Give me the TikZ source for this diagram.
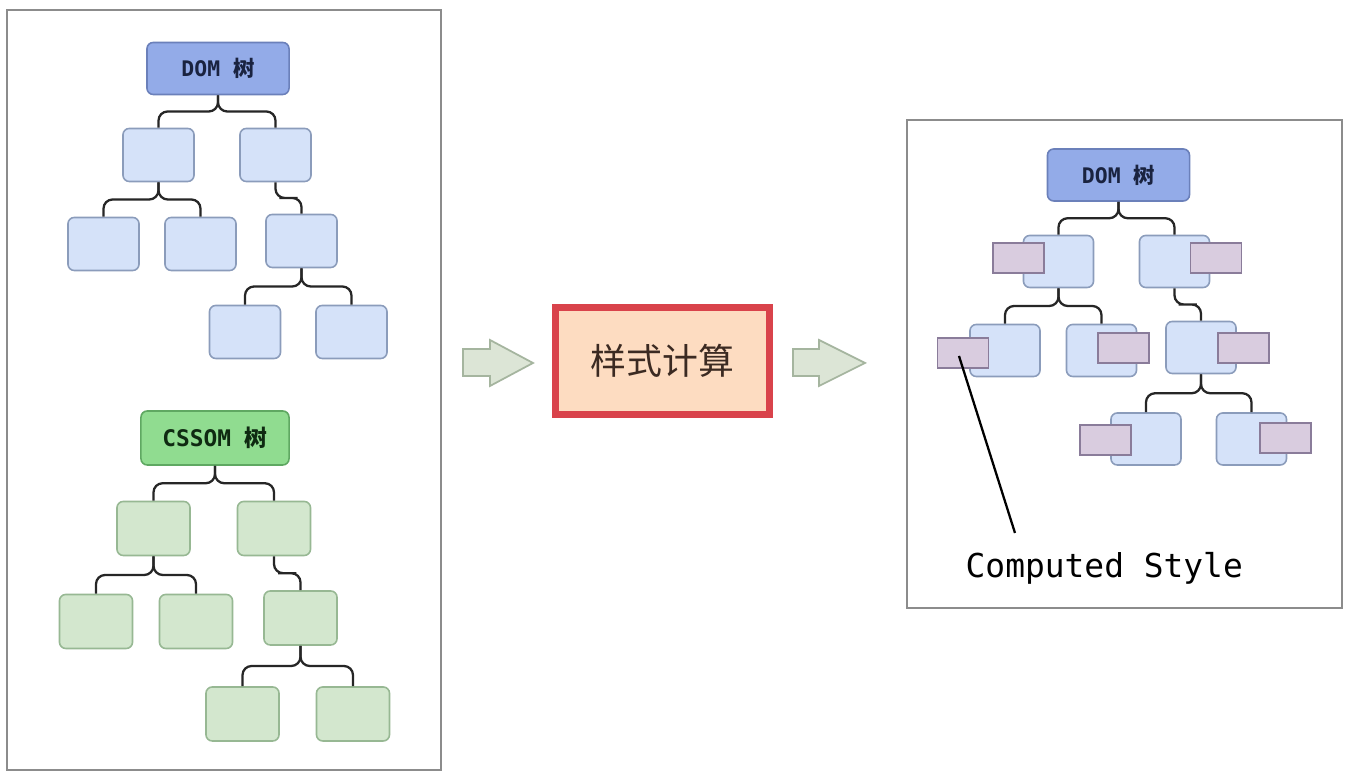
\documentclass[tikz,border=0pt]{standalone}
\usepackage{fontspec}
\setmonofont{DejaVu Sans Mono}
\newfontfamily\cjk{Noto Sans CJK SC}
\usetikzlibrary{calc}
\definecolor{panelc}{HTML}{8C8C8C}
\definecolor{rootb}{HTML}{93ABE8}
\definecolor{rootbd}{HTML}{6B80BA}
\definecolor{nodeb}{HTML}{D5E2F9}
\definecolor{nodebd}{HTML}{8B9CBB}
\definecolor{rootg}{HTML}{90DC90}
\definecolor{rootgd}{HTML}{5FA862}
\definecolor{nodeg}{HTML}{D3E7CE}
\definecolor{nodegd}{HTML}{97B893}
\definecolor{stylep}{HTML}{D9CCDF}
\definecolor{stylepd}{HTML}{8A7C9A}
\definecolor{arrowf}{HTML}{DCE5D6}
\definecolor{arrowd}{HTML}{A5B59F}
\definecolor{calcred}{HTML}{D9434B}
\definecolor{calcfill}{HTML}{FDDCC1}
\definecolor{calctext}{HTML}{3B2A22}
\definecolor{domtext}{HTML}{1A2340}
\definecolor{csstext}{HTML}{0F2A12}
\newcommand\brlink[2]{\draw[treeline] (#1.south) |- ($(#1.south)!0.5!(#2.north)$) -| (#2.north);}
\begin{document}
\begin{tikzpicture}[x=0.01cm,y=-0.01cm,
  panel/.style={draw=panelc,line width=0.45pt},
  treeline/.style={draw=black!85,line width=0.65pt,rounded corners=2.6pt},
  bnode/.style={draw=nodebd,fill=nodeb,line width=0.45pt,rounded corners=1.8pt,minimum width=0.71cm,minimum height=0.53cm,inner sep=0pt},
  broot/.style={draw=rootbd,fill=rootb,line width=0.45pt,rounded corners=1.8pt,minimum width=1.42cm,minimum height=0.52cm,inner sep=0pt,text=domtext,font=\fontsize{6.1}{7}\selectfont\ttfamily\bfseries},
  gnode/.style={draw=nodegd,fill=nodeg,line width=0.45pt,rounded corners=1.8pt,minimum width=0.73cm,minimum height=0.54cm,inner sep=0pt},
  groot/.style={draw=rootgd,fill=rootg,line width=0.45pt,rounded corners=1.8pt,minimum width=1.48cm,minimum height=0.54cm,inner sep=0pt,text=csstext,font=\fontsize{6.5}{7.5}\selectfont\ttfamily\bfseries},
  rnode/.style={bnode,minimum width=0.70cm,minimum height=0.52cm},
  sbox/.style={draw=stylepd,fill=stylep,line width=0.45pt,minimum width=0.51cm,minimum height=0.30cm,inner sep=0pt},
  blockarrow/.style={draw=arrowd,fill=arrowf,line width=0.5pt,line join=miter},
  calcbox/.style={draw=calcred,fill=calcfill,line width=1.9pt,minimum width=2.14cm,minimum height=1.07cm,inner sep=0pt,text=calctext,font=\fontsize{10.2}{12}\selectfont\cjk},
  lbl/.style={font=\fontsize{9.35}{11}\selectfont\ttfamily,inner sep=0pt,anchor=base west}
]
\useasboundingbox (0,0) rectangle (1347,774);
\fill[white] (0,0) rectangle (1347,774);

% panels
\draw[panel] (7,10) rectangle (441,770);
\draw[panel] (907,120) rectangle (1342,608);

% ---------- left DOM tree ----------
\node[broot] (dom) at (218,68.5) {DOM {\cjk\bfseries 树}};
\node[bnode] (a) at (158.5,155) {};
\node[bnode] (b) at (275.5,155) {};
\node[bnode] (c) at (103.5,244) {};
\node[bnode] (d) at (200.5,244) {};
\node[bnode] (e) at (301.5,241) {};
\node[bnode] (f) at (245,332) {};
\node[bnode] (g) at (351.5,332) {};
\brlink{dom}{a}\brlink{dom}{b}
\brlink{a}{c}\brlink{a}{d}
\brlink{b}{e}
\brlink{e}{f}\brlink{e}{g}

% ---------- left CSSOM tree ----------
\node[groot] (cs) at (215,438) {CSSOM {\cjk\bfseries 树}};
\node[gnode] (ca) at (153.5,528.5) {};
\node[gnode] (cb) at (274,528.5) {};
\node[gnode] (cc) at (96,621.5) {};
\node[gnode] (cd) at (196,621.5) {};
\node[gnode] (ce) at (300.5,618) {};
\node[gnode] (cf) at (242.5,714) {};
\node[gnode] (cg) at (353,714) {};
\brlink{cs}{ca}\brlink{cs}{cb}
\brlink{ca}{cc}\brlink{ca}{cd}
\brlink{cb}{ce}
\brlink{ce}{cf}\brlink{ce}{cg}

% ---------- block arrows ----------
\draw[blockarrow] (463,349) -- (490,349) -- (490,340) -- (533,363) -- (490,386) -- (490,376) -- (463,376) -- cycle;
\draw[blockarrow] (793,349) -- (819,349) -- (819,340) -- (865,363) -- (819,386) -- (819,376) -- (793,376) -- cycle;

% ---------- style computation ----------
\node[calcbox] (calc) at (662.5,361) {样式计算};

% ---------- right DOM tree ----------
\node[broot] (rdom) at (1118.5,175) {DOM {\cjk\bfseries 树}};
\node[rnode] (ra) at (1058.5,261.5) {};
\node[rnode] (rb) at (1174.5,261.5) {};
\node[rnode] (rc) at (1005,350.5) {};
\node[rnode] (rd) at (1101.5,350.5) {};
\node[rnode] (re) at (1201,347.5) {};
\node[rnode] (rf) at (1146,439) {};
\node[rnode] (rg) at (1251.5,439) {};
\brlink{rdom}{ra}\brlink{rdom}{rb}
\brlink{ra}{rc}\brlink{ra}{rd}
\brlink{rb}{re}
\brlink{re}{rf}\brlink{re}{rg}

\node[sbox] (sa) at (1018.5,258) {};
\node[sbox] (sb) at (1216,258) {};
\node[sbox] (sc) at (963,353) {};
\node[sbox] (sd) at (1123.5,348) {};
\node[sbox] (se) at (1243.5,348) {};
\node[sbox] (sf) at (1105.5,440) {};
\node[sbox] (sg) at (1285.5,438) {};

% callout
\node[lbl] (cstyle) at (965,578) {Computed Style};
\coordinate (cpin) at (959,356);
\coordinate (cend) at (1015,533);
\draw[line width=0.65pt] (cpin) -- (cend);
\end{tikzpicture}
\end{document}
